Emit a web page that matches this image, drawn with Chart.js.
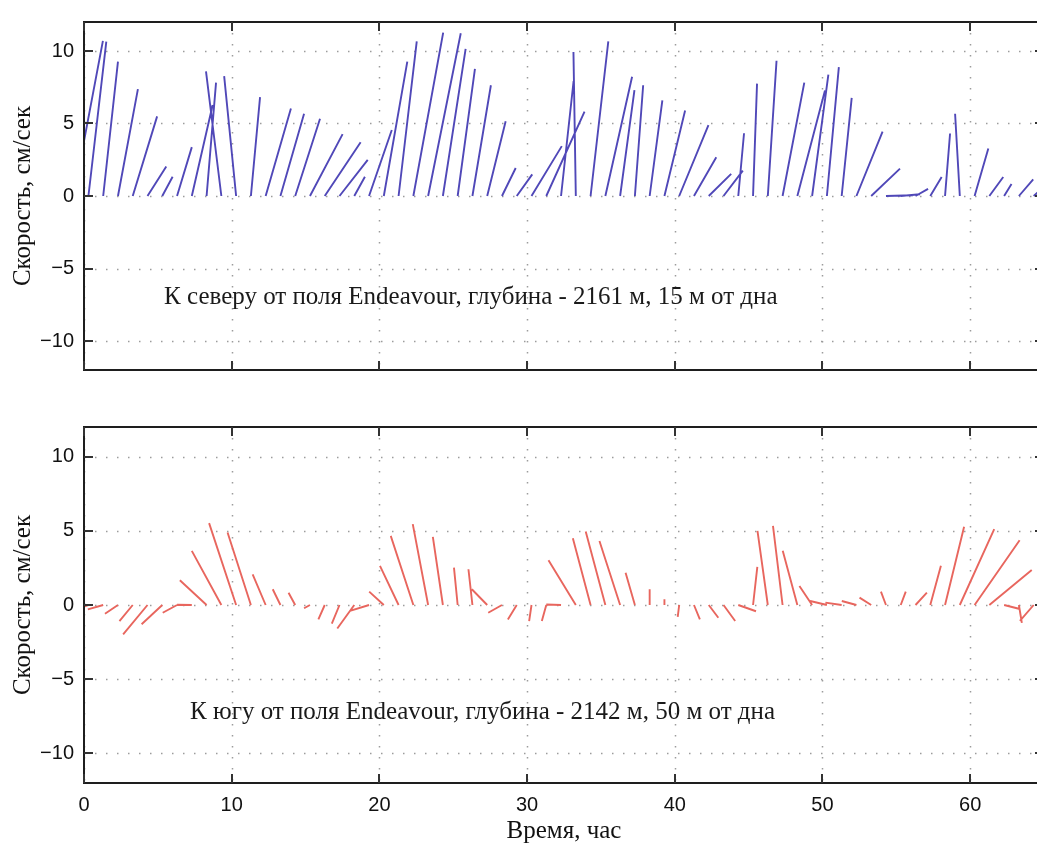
<!DOCTYPE html>
<html>
<head>
<meta charset="utf-8">
<script src="https://cdn.jsdelivr.net/npm/chart.js@4/dist/chart.umd.min.js"></script>
<style>
  html, body { margin: 0; padding: 0; background: #fff; overflow: hidden; width: 1037px; height: 848px; }
  canvas { position: absolute; left: 0; }
  #north { top: 0; }
  #south { top: 400px; }
</style>
</head>
<body>
<canvas id="north" width="1100" height="400" style="width:1100px;height:400px"></canvas>
<canvas id="south" width="1100" height="448" style="width:1100px;height:448px"></canvas>
<script>
// Hourly current vectors, stick plot: each stick starts at (hour, 0)
// and ends at (hour + east, north). Components in cm/s.

// North station (Endeavour field, 2161 m, 15 m above bottom)
const hoursNorth = [
  -0.7, 0.3, 1.3, 2.3, 3.3, 4.3, 5.3, 6.3, 7.3, 8.3,
  9.3, 10.3, 11.3, 12.3, 13.3, 14.3, 15.3, 16.3, 17.3, 18.3,
  19.3, 20.3, 21.3, 22.3, 23.3, 24.3, 25.3, 26.3, 27.3, 28.3,
  29.3, 30.3, 31.3, 32.3, 33.3, 34.3, 35.3, 36.3, 37.3, 38.3,
  39.3, 40.3, 41.3, 42.3, 43.3, 44.3, 45.3, 46.3, 47.3, 48.3,
  49.3, 50.3, 51.3, 52.3, 53.3, 54.3, 55.3, 56.3, 57.3, 58.3,
  59.3, 60.3, 61.3, 62.3, 63.3, 64.3
];
const eastNorth = [
  1.98, 1.21, 1.00, 1.35, 1.65, 1.27, 0.70, 1.00, 1.41, 0.64,
  -1.04, -0.81, 0.62, 1.71, 1.60, 1.68, 2.21, 2.43, 1.91, 0.72,
  1.54, 1.59, 1.23, 2.02, 2.21, 1.54, 1.17, 1.25, 1.25, 0.93,
  1.05, 2.05, 2.59, 0.85, -0.16, 1.20, 1.81, 0.97, 0.56, 0.86,
  1.40, 1.98, 1.51, 1.52, 1.31, 0.39, 0.27, 0.59, 1.47, 1.87,
  1.10, 0.81, 0.68, 1.77, 1.95, 1.83, 1.30, 0.85, 0.77, 0.34,
  -0.32, 0.93, 0.94, 0.50, 0.97, 1.00
];
const northNorth = [
  10.70, 10.64, 9.27, 7.37, 5.49, 2.04, 1.33, 3.37, 6.27, 7.82,
  8.60, 8.27, 6.82, 6.04, 5.67, 5.33, 4.27, 3.71, 2.49, 1.33,
  4.55, 9.27, 10.67, 11.27, 11.22, 10.15, 8.77, 7.64, 5.15, 1.93,
  1.49, 3.44, 5.82, 7.93, 9.93, 10.67, 8.22, 7.30, 7.64, 6.60,
  5.89, 4.89, 2.67, 1.53, 1.75, 4.33, 7.75, 9.33, 7.82, 7.27,
  8.37, 8.89, 6.77, 4.44, 1.89, 0.05, 0.12, 0.49, 1.31, 4.31,
  5.67, 3.27, 1.31, 0.82, 1.15, 0.90
];

// South station (Endeavour field, 2142 m, 50 m above bottom)
const hoursSouth = [
  0.3, 1.3, 2.3, 3.3, 4.3, 5.3, 6.3, 7.3, 8.3, 9.3,
  10.3, 11.3, 12.3, 13.3, 14.3, 15.3, 16.3, 17.3, 18.3, 19.3,
  20.3, 21.3, 22.3, 23.3, 24.3, 25.3, 26.3, 27.3, 28.3, 29.3,
  30.3, 31.3, 32.3, 33.3, 34.3, 35.3, 36.3, 37.3, 38.3, 39.3,
  40.3, 41.3, 42.3, 43.3, 44.3, 45.3, 46.3, 47.3, 48.3, 49.3,
  50.3, 51.3, 52.3, 53.3, 54.3, 55.3, 56.3, 57.3, 58.3, 59.3,
  60.3, 61.3, 62.3, 63.3, 64.3
];
const eastSouth = [
  -0.30, -1.04, -0.88, -0.90, -1.65, -1.40, -0.97, -1.00, -1.81, -2.00,
  -1.83, -1.58, -0.88, -0.52, -0.45, -0.40, -0.43, -0.52, -1.15, -1.29,
  -0.99, -1.26, -1.53, -1.04, -0.68, -0.25, -0.27, -1.04, -0.93, -0.60,
  -0.16, -0.30, -1.00, -1.85, -1.20, -1.33, -1.40, -0.63, 0.00, 0.00,
  -0.10, 0.40, 0.65, 0.79, 1.20, 0.29, -0.70, -0.65, -0.99, -0.86,
  -1.13, -1.10, -0.99, -0.79, -0.34, 0.34, 0.77, 0.72, 1.29, 2.33,
  3.05, 2.87, 1.00, 0.20, -0.93
];
const northSouth = [
  -0.10, -0.29, -0.59, -1.08, -1.98, -1.30, -0.52, 0.02, 1.67, 3.65,
  5.52, 4.89, 2.07, 1.06, 0.83, -0.22, -0.97, -1.26, -1.58, -0.40,
  0.90, 2.64, 4.66, 5.45, 4.59, 2.52, 2.41, 1.06, -0.52, -0.97,
  -1.08, -1.08, 0.03, 3.02, 4.50, 4.95, 4.32, 2.18, 1.06, 0.38,
  -0.80, -0.97, -0.86, -1.08, -0.42, 2.57, 5.00, 5.34, 3.65, 1.28,
  0.27, 0.16, 0.27, 0.50, 0.90, 0.90, 0.83, 2.64, 5.27, 5.11,
  4.37, 2.36, -0.25, -1.20, -1.07
];

// Axis ticks
const hourTicks = [0, 10, 20, 30, 40, 50, 60];
const speedTicks = [-10, -5, 0, 5, 10];

const noteNorth = 'К северу от поля Endeavour, глубина - 2161 м, 15 м от дна';
const noteSouth = 'К югу от поля Endeavour, глубина - 2142 м, 50 м от дна';

// Hours of time axis drawn per cm/s of east component (equal visual scale)
const stickScale = 1.0;

function stickPoints(hours, east, north) {
  const pts = [];
  hours.forEach((t, i) => {
    pts.push({ x: t, y: 0 });
    pts.push({ x: t + east[i] * stickScale, y: north[i] });
    pts.push({ x: t, y: null });
  });
  return pts;
}

const SANS = '"Liberation Sans", Arial, Helvetica, sans-serif';
const SERIF = '"Liberation Serif", "Times New Roman", serif';

// Dotted grid, inward ticks and the box frame, plus the station note
const framePlugin = {
  id: 'frame',
  beforeDatasetsDraw(chart) {
    const { ctx, chartArea: a, scales: { x, y } } = chart;
    ctx.save();
    ctx.strokeStyle = '#9c9c9c';
    ctx.lineWidth = 1.5;
    ctx.setLineDash([1.5, 9.5]);
    hourTicks.forEach(v => {
      const px = Math.round(x.getPixelForValue(v)) + 0.5;
      ctx.beginPath(); ctx.moveTo(px, a.top); ctx.lineTo(px, a.bottom); ctx.stroke();
    });
    speedTicks.forEach(v => {
      const py = Math.round(y.getPixelForValue(v)) + 0.5;
      ctx.beginPath(); ctx.moveTo(a.left, py); ctx.lineTo(a.right, py); ctx.stroke();
    });
    ctx.restore();
  },
  afterDatasetsDraw(chart) {
    const { ctx, chartArea: a, scales: { x, y } } = chart;
    const opts = chart.options.plugins.frame;
    ctx.save();
    ctx.setLineDash([]);
    ctx.strokeStyle = '#1e1e1e';
    ctx.lineWidth = 2;
    ctx.strokeRect(a.left, a.top, a.right - a.left, a.bottom - a.top);
    const tl = 9;
    ctx.strokeStyle = '#333';
    hourTicks.forEach(v => {
      const px = Math.round(x.getPixelForValue(v));
      ctx.beginPath(); ctx.moveTo(px, a.top); ctx.lineTo(px, a.top + tl); ctx.stroke();
      ctx.beginPath(); ctx.moveTo(px, a.bottom); ctx.lineTo(px, a.bottom - tl); ctx.stroke();
    });
    speedTicks.forEach(v => {
      const py = Math.round(y.getPixelForValue(v));
      ctx.beginPath(); ctx.moveTo(a.left, py); ctx.lineTo(a.left + tl, py); ctx.stroke();
      ctx.beginPath(); ctx.moveTo(a.right, py); ctx.lineTo(a.right - tl, py); ctx.stroke();
    });
    ctx.fillStyle = '#1a1a1a';
    ctx.font = '25px ' + SERIF;
    ctx.textBaseline = 'alphabetic';
    ctx.textAlign = 'left';
    ctx.fillText(opts.note, x.getPixelForValue(opts.noteAt[0]), y.getPixelForValue(opts.noteAt[1]));
    ctx.restore();
  }
};

function makeChart(id, hours, east, north, colour, note, noteAt, showHours, padTop, padBottom) {
  return new Chart(document.getElementById(id), {
    type: 'line',
    data: {
      datasets: [{
        data: stickPoints(hours, east, north),
        borderColor: colour,
        borderWidth: 1.9,
        pointRadius: 0,
        tension: 0,
        spanGaps: false,
        fill: false
      }]
    },
    options: {
      responsive: false,
      maintainAspectRatio: false,
      animation: false,
      devicePixelRatio: 1,
      events: [],
      layout: { padding: { left: 0, right: 56, top: padTop, bottom: padBottom } },
      plugins: {
        legend: { display: false },
        tooltip: { enabled: false },
        frame: { note: note, noteAt: noteAt }
      },
      scales: {
        x: {
          type: 'linear',
          min: 0,
          max: 65,
          display: showHours,
          afterBuildTicks: s => { s.ticks = hourTicks.map(v => ({ value: v })); },
          afterFit: s => { if (showHours) s.height = 65; },
          grid: { display: false, drawTicks: false },
          border: { display: false },
          ticks: {
            padding: 10,
            color: '#111',
            font: { family: SANS, size: 20 },
            maxRotation: 0
          },
          title: {
            display: true,
            text: 'Время, час',
            color: '#111',
            font: { family: SERIF, size: 25 },
            padding: { top: 0, bottom: 2 }
          }
        },
        y: {
          type: 'linear',
          min: -12,
          max: 12,
          afterBuildTicks: s => { s.ticks = speedTicks.map(v => ({ value: v })); },
          afterFit: s => { s.width = 84; },
          grid: { display: false, drawTicks: false },
          border: { display: false },
          ticks: {
            padding: 10,
            color: '#111',
            font: { family: SANS, size: 20 },
            callback: v => (v < 0 ? '\u2212' + Math.abs(v) : String(v))
          },
          title: {
            display: true,
            text: 'Скорость, см/сек',
            color: '#111',
            font: { family: SERIF, size: 25 },
            padding: { top: 8, bottom: 0 }
          }
        }
      }
    },
    plugins: [framePlugin]
  });
}

makeChart('north', hoursNorth, eastNorth, northNorth, '#5048b8', noteNorth, [5.42, -7.45], false, 14, 30);
makeChart('south', hoursSouth, eastSouth, northSouth, '#e8665e', noteSouth, [7.18, -7.7], true, 27, 0);
</script>
</body>
</html>
